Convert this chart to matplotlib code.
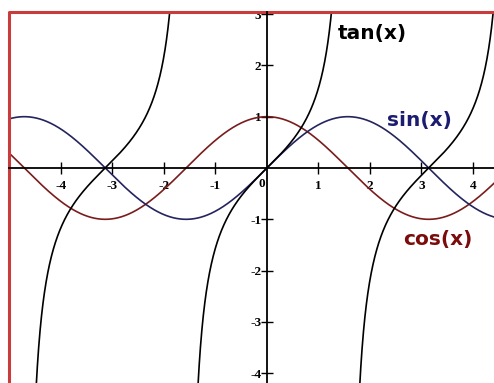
import numpy as np
import matplotlib.pyplot as plt

# plotting range and tick labels
x_min, x_max = -5.01, 4.41
y_min, y_max = -4.19, 3.04
x_ticks = [-4, -3, -2, -1, 1, 2, 3, 4]
y_ticks = [-4, -3, -2, -1, 1, 2, 3]

x = np.linspace(x_min, x_max, 2000)
sin_y = np.sin(x)
cos_y = np.cos(x)
tan_y = np.tan(x)
tan_y[np.abs(tan_y) > 12] = np.nan  # break the curve at the asymptotes

fig = plt.figure(figsize=(4.94, 3.83), dpi=100)
ax = fig.add_axes([9 / 494, 0, 1 - 9 / 494, 1 - 12 / 383])
ax.set_xlim(x_min, x_max)
ax.set_ylim(y_min, y_max)

ax.plot(x, cos_y, color='#7a1c1c', lw=1.2)
ax.plot(x, sin_y, color='#24245e', lw=1.2)
ax.plot(x, tan_y, color='black', lw=1.2)

# axes through the origin
for side in ['right', 'top']:
    ax.spines[side].set_visible(False)
ax.spines['left'].set_position(('data', 0))
ax.spines['bottom'].set_position(('data', 0))
ax.spines['left'].set_linewidth(1.3)
ax.spines['bottom'].set_linewidth(1.3)

tick_font = dict(family='Liberation Serif', fontsize=9.5, fontweight='bold')
ax.set_xticks(x_ticks)
ax.set_yticks(y_ticks)
ax.set_xticklabels([str(t) for t in x_ticks], **tick_font)
ax.set_yticklabels([str(t) for t in y_ticks], **tick_font)
ax.tick_params(axis='x', direction='inout', length=8, width=1.0, pad=5)
ax.tick_params(axis='y', direction='inout', length=8, width=1.0, pad=0)
ax.text(-0.03, -0.20, '0', ha='right', va='top', **tick_font)

# red frame on the left and top
ax.plot([0, 0, 1], [0, 1, 1], transform=ax.transAxes, color='#c83c3c',
        lw=2.2, clip_on=False)

ax.text(1.38, 2.62, 'tan(x)', fontsize=14.5, fontweight='bold', color='black',
        va='center')
ax.text(2.33, 0.92, 'sin(x)', fontsize=14.5, fontweight='bold', color='#1c1c70',
        va='center')
ax.text(2.64, -1.40, 'cos(x)', fontsize=14.5, fontweight='bold', color='#7a0c0c',
        va='center')

fig.savefig('out.png', dpi=100)
